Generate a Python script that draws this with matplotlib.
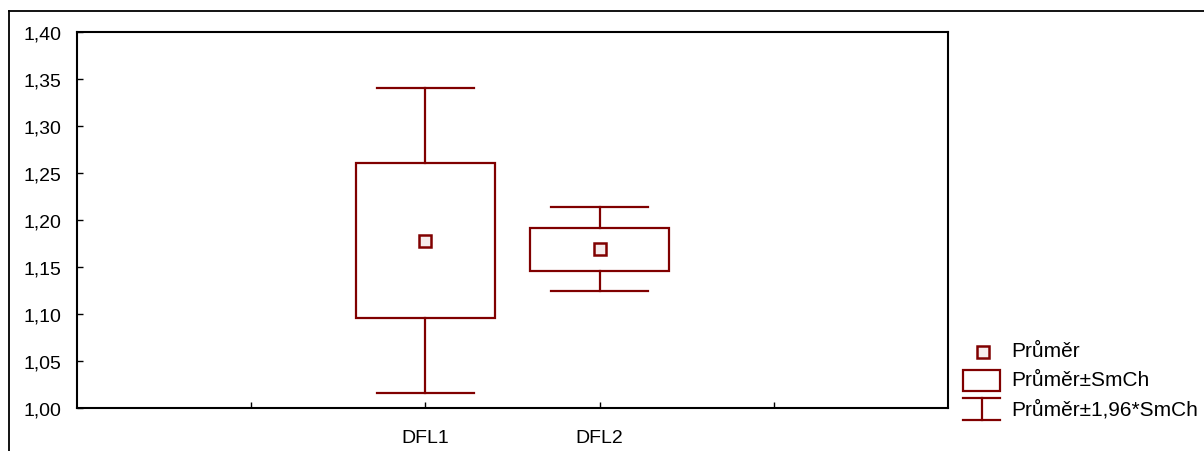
import matplotlib
matplotlib.use("Agg")
import matplotlib.pyplot as plt
from matplotlib.patches import Rectangle
from matplotlib.lines import Line2D
from matplotlib import font_manager

plt.rcParams['font.family'] = ['Liberation Sans', 'DejaVu Sans']

categories = ['DFL1', 'DFL2']
positions = [2, 3]
means = [1.178, 1.169]
box_lo = [1.096, 1.146]
box_hi = [1.261, 1.192]
whisk_lo = [1.016, 1.125]
whisk_hi = [1.340, 1.214]
y_ticks = [1.00, 1.05, 1.10, 1.15, 1.20, 1.25, 1.30, 1.35, 1.40]
legend_labels = ['Průměr', 'Průměr±SmCh', 'Průměr±1,96*SmCh']

COL = '#800000'
W, H = 1204, 452
fig = plt.figure(figsize=(W / 100, H / 100), dpi=100)

def fx(px):
    return px / W

def fy(py):
    return 1 - py / H

names = {f.name for f in font_manager.fontManager.ttflist}
if 'Liberation Sans Narrow' in names:
    xfam, xsize = 'Liberation Sans Narrow', 16
else:
    xfam, xsize = 'Liberation Sans', 14

ax = fig.add_axes([fx(77), fy(409), fx(948) - fx(77), fy(33) - fy(409)])
ax.set_xlim(0, 5)
ax.set_ylim(1.0, 1.4)

box_w = 0.8
cap_w = 0.56
for p, m, bl, bh, wl, wh in zip(positions, means, box_lo, box_hi, whisk_lo, whisk_hi):
    ax.add_patch(Rectangle((p - box_w / 2, bl), box_w, bh - bl, fill=False,
                           edgecolor=COL, linewidth=1.6, zorder=3))
    ax.plot([p, p], [bh, wh], color=COL, lw=1.6, zorder=3)
    ax.plot([p, p], [wl, bl], color=COL, lw=1.6, zorder=3)
    ax.plot([p - cap_w / 2, p + cap_w / 2], [wh, wh], color=COL, lw=1.6, zorder=3)
    ax.plot([p - cap_w / 2, p + cap_w / 2], [wl, wl], color=COL, lw=1.6, zorder=3)
    ax.plot([p], [m], marker='s', ms=8, mew=1.8, mec=COL, mfc='#f6ecec',
            linestyle='none', zorder=4)

ax.set_xticks([1, 2, 3, 4])
ax.set_xticklabels(['', categories[0], categories[1], ''], family=xfam, fontsize=xsize)
ax.set_yticks(y_ticks)
ax.set_yticklabels([f"{v:.2f}".replace('.', ',') for v in y_ticks])
ax.tick_params(axis='both', direction='in', length=4, width=1, colors='black')
ax.tick_params(axis='y', labelsize=14, pad=11)
ax.tick_params(axis='x', pad=15)
for s in ax.spines.values():
    s.set_linewidth(1.5)

# outer frame lines (top and left)
fig.add_artist(Line2D([fx(9), 1.0], [fy(12), fy(12)], color='black', lw=1.3))
fig.add_artist(Line2D([fx(9), fx(9)], [fy(12), 0], color='black', lw=1.3))

# legend
fig.add_artist(Line2D([fx(982.5)], [fy(352.5)], marker='s', ms=8, mew=1.8,
                      mec=COL, mfc='#f6ecec', linestyle='none'))
fig.add_artist(Rectangle((fx(963), fy(392)), fx(1000) - fx(963), fy(371) - fy(392),
                         fill=False, edgecolor=COL, lw=1.6, transform=fig.transFigure))
fig.add_artist(Line2D([fx(963), fx(1000)], [fy(399), fy(399)], color=COL, lw=1.6))
fig.add_artist(Line2D([fx(963), fx(1000)], [fy(421), fy(421)], color=COL, lw=1.6))
fig.add_artist(Line2D([fx(981.5), fx(981.5)], [fy(399), fy(421)], color=COL, lw=1.6))
for lab, yy in zip(legend_labels, [352, 381, 410]):
    fig.text(fx(1011), fy(yy), lab, fontsize=15, va='center', ha='left')

fig.savefig('out.png', dpi=100)
